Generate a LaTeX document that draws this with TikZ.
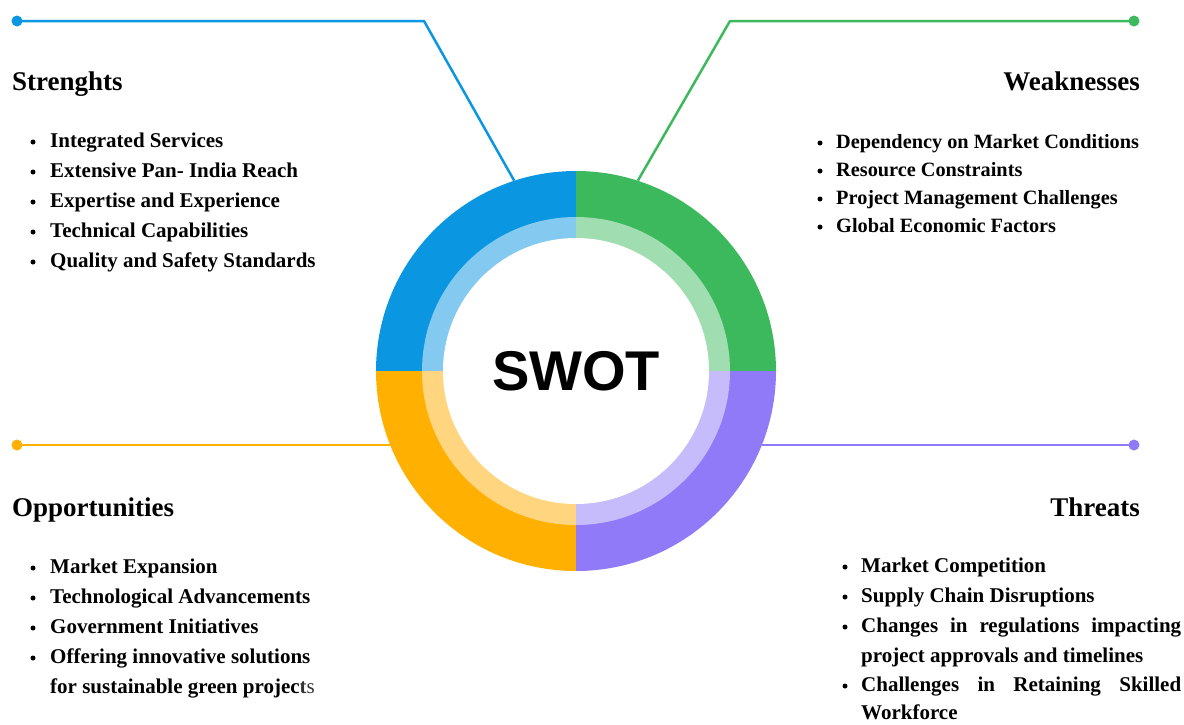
\documentclass[tikz,border=0pt]{standalone}
\usepackage{fontspec}
\setmainfont{Liberation Serif}
\newfontfamily\swotfont{Liberation Sans}
\usetikzlibrary{calc}
\definecolor{sblue}{HTML}{0A96E1}
\definecolor{sbluelt}{HTML}{84C9F0}
\definecolor{sgreen}{HTML}{3DB95D}
\definecolor{sgreenlt}{HTML}{A0DDB1}
\definecolor{sorange}{HTML}{FFB000}
\definecolor{sorangelt}{HTML}{FFD67F}
\definecolor{spurple}{HTML}{917AF7}
\definecolor{spurplelt}{HTML}{C6BBFB}
\newcommand{\itemfont}{\fontsize{21}{30}\selectfont\bfseries}

\tikzset{
  head/.style={inner sep=0, font=\fontsize{27}{32}\selectfont\bfseries},
  item/.style={anchor=base west, inner sep=0, font=\itemfont},
  bul/.style={circle, fill=black, inner sep=0, minimum size=5pt},
  dot/.style={circle, inner sep=0, minimum size=11pt},
  link/.style={line width=2.5pt, line join=round},
}

\begin{document}
\begin{tikzpicture}[x=1pt,y=1pt]
    \useasboundingbox (0,0) rectangle (1184,-724);
    \node[circle,inner sep=0,minimum size=400pt] (ring) at (576,-371) {};

    % connectors
    \node[dot,fill=sblue] (sdot) at (17,-21) {};
    \coordinate (sbend) at (424,-21);
    \draw[link,sblue] (sdot.center) -- (sbend) -- (ring.108);
    \node[dot,fill=sgreen] (wdot) at (1134,-21) {};
    \coordinate (wbend) at (730,-21);
    \draw[link,sgreen] (wdot.center) -- (wbend) -- (ring.72);
    \node[dot,fill=sorange] (odot) at (17,-445) {};
    \coordinate (oring) at ($(ring.center)+(-185.8,-74)$);
    \draw[link,sorange] (odot.center) -- (oring);
    \node[dot,fill=spurple] (tdot) at (1134,-445) {};
    \coordinate (tring) at ($(ring.center)+(185.8,-74)$);
    \draw[link,spurple] (tdot.center) -- (tring);

    % ring
    \foreach \a/\dk/\lt in {90/sblue/sbluelt, 0/sgreen/sgreenlt, 180/sorange/sorangelt, 270/spurple/spurplelt} {
      \fill[\dk] (ring.center) -- ++(\a:200pt) arc[start angle=\a, delta angle=90, radius=200pt] -- cycle;
      \fill[\lt] (ring.center) -- ++(\a:154pt) arc[start angle=\a, delta angle=90, radius=154pt] -- cycle;
    }
    \fill[white] (ring.center) circle[radius=133pt];
    \node[inner sep=0, font=\swotfont\fontsize{56}{60}\selectfont\bfseries] (swot) at (ring.center) {SWOT};

    % headings
    \node[head,anchor=base west] (shead) at (12,-90) {Strenghts};
    \node[head,anchor=base east] (whead) at (1140,-90) {Weaknesses};
    \node[head,anchor=base west] (ohead) at (12,-516) {Opportunities};
    \node[head,anchor=base east] (thead) at (1140,-516) {Threats};

    % strengths
    \foreach \t [count=\i] in {Integrated Services, Extensive Pan- India Reach, Expertise and Experience, Technical Capabilities, Quality and Safety Standards} {
      \node[bul] (sb\i) at (33,-112-30*\i) {};
      \node[item] (s\i) at (50,-117-30*\i) {\t};
    }
    % weaknesses
    \foreach \t [count=\i] in {Dependency on Market Conditions, Resource Constraints, Project Management Challenges, Global Economic Factors} {
      \node[bul] (wb\i) at (820,-115-28*\i) {};
      \node[item,font=\fontsize{20.3}{28}\selectfont\bfseries] (w\i) at (836,-120-28*\i) {\t};
    }
    % opportunities
    \foreach \t [count=\i] in {Market Expansion, Technological Advancements, Government Initiatives, Offering innovative solutions} {
      \node[bul] (ob\i) at (33,-538-30*\i) {};
      \node[item] (o\i) at (50,-543-30*\i) {\t};
    }
    \node[item] (o5) at (50,-693) {for sustainable green projec\textcolor{black!80}{t{\mdseries s}}};
    % threats
    \foreach \t/\y in {Market Competition/572, Supply Chain Disruptions/602} {
      \node[bul] at (845,-\y+5) {};
      \node[item] (t\y) at (861,-\y) {\t};
    }
    \node[bul] (tb3) at (845,-627) {};
    \node[item] (t3) at (861,-632) {\makebox[320pt][s]{Changes in regulations impacting}};
    \node[item] (t4) at (861,-662) {project approvals and timelines};
    \node[bul] (tb5) at (845,-686) {};
    \node[item] (t5) at (861,-691) {\makebox[320pt][s]{Challenges in Retaining Skilled}};
    \node[item] (t6) at (861,-719) {Workforce};
\end{tikzpicture}
\end{document}
